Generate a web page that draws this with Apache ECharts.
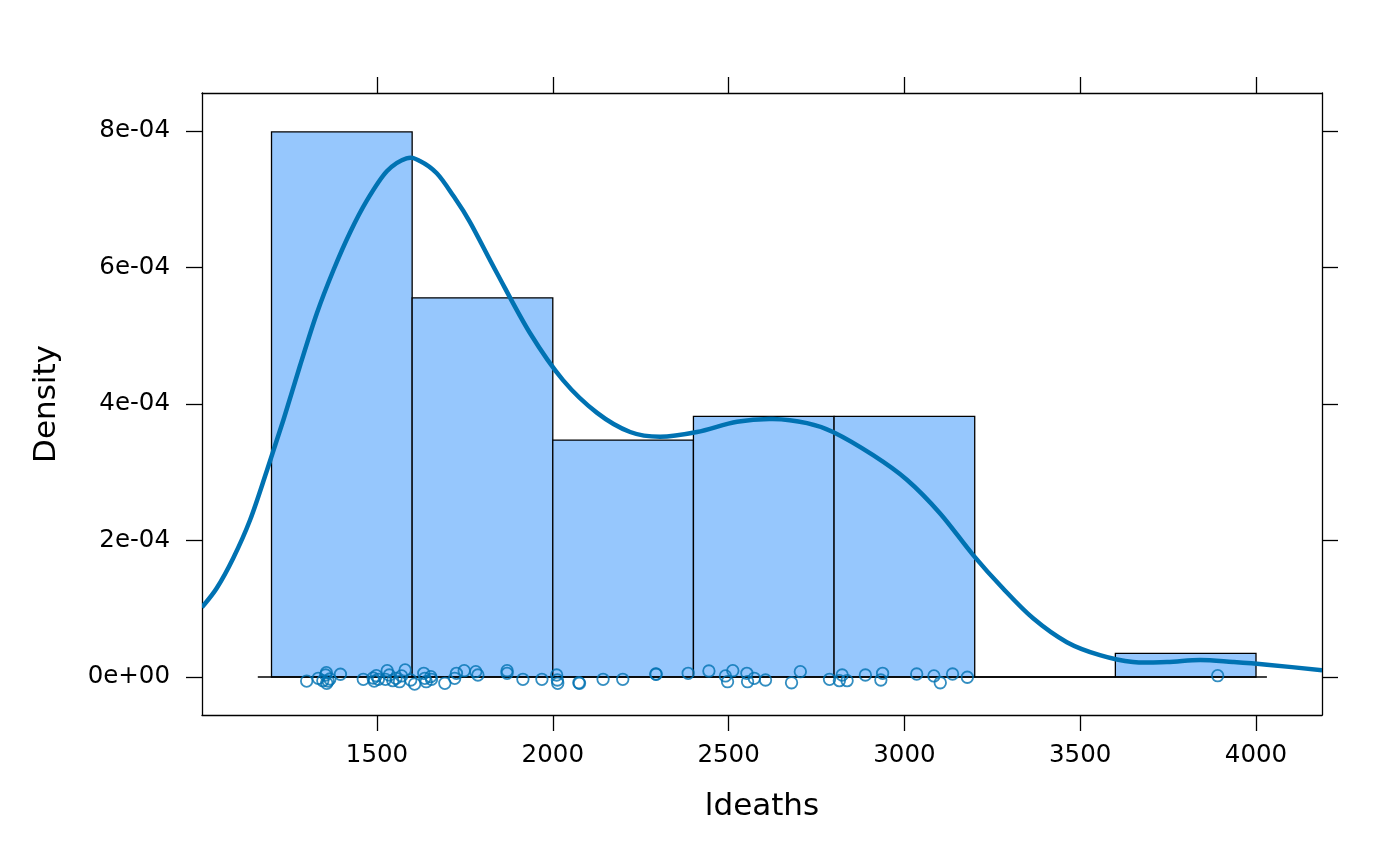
<!DOCTYPE html>
<html>
<head>
<meta charset="utf-8">
<script src="https://cdn.jsdelivr.net/npm/echarts@6/dist/echarts.min.js"></script>
<style>
html,body{margin:0;padding:0;background:#fff;}
#chart{width:1400px;height:866px;}
</style>
</head>
<body>
<div id="chart"></div>
<script>
// Histogram bins
const binStarts = [1200, 1600, 2000, 2400, 2800, 3200, 3600];
const binEnds   = [1600, 2000, 2400, 2800, 3200, 3600, 4000];
const binDensity = [7.986e-4, 5.556e-4, 3.472e-4, 3.819e-4, 3.819e-4, 0, 0.347e-4];

const obsValues = [1300,1333,1346,1354,1356,1357,1361,1366,1396,1461,
  1489,1492,1498,1504,1524,1529,1535,1545,1554,1564,
  1570,1580,1596,1607,1633,1636,1640,1653,1655,1693,
  1721,1726,1748,1781,1787,1870,1870,1915,1969,2011,
  2013,2014,2074,2076,2143,2199,2293,2294,2385,2444,
  2491,2497,2512,2552,2554,2573,2605,2679,2704,2787,
  2815,2823,2837,2889,2933,2938,3035,3084,3102,3137,
  3179,3891];
const obsJitter = [-0.59e-5,-0.19e-5,-0.54e-5,0.29e-5,0.63e-5,-0.92e-5,-0.59e-5,-0.29e-5,0.40e-5,-0.34e-5,
  -0.15e-5,-0.59e-5,0.19e-5,-0.34e-5,-0.34e-5,0.92e-5,0.29e-5,-0.54e-5,-0.19e-5,-0.69e-5,
  0.15e-5,1.03e-5,-0.44e-5,-1.03e-5,0.54e-5,-0.19e-5,-0.69e-5,0.05e-5,-0.34e-5,-0.92e-5,
  -0.19e-5,0.54e-5,0.92e-5,0.78e-5,0.29e-5,0.92e-5,0.54e-5,-0.34e-5,-0.34e-5,0.29e-5,
  -0.44e-5,-0.92e-5,-0.84e-5,-0.92e-5,-0.34e-5,-0.34e-5,0.44e-5,0.40e-5,0.54e-5,0.88e-5,
  0.15e-5,-0.69e-5,0.92e-5,0.54e-5,-0.69e-5,-0.19e-5,-0.44e-5,-0.84e-5,0.78e-5,-0.34e-5,
  -0.54e-5,0.29e-5,-0.54e-5,0.29e-5,-0.44e-5,0.54e-5,0.44e-5,0.15e-5,-0.84e-5,0.44e-5,
  -0.04e-5,0.19e-5];

// Kernel density curve
const curveX = [1002,1044,1091,1139,1186,1234,1281,1329,1376,1423,1471,1528,1584,1622,1670,1717,1764,1841,1935,2029,2126,2220,2305,2410,2524,2626,2723,2797,2911,3007,3101,3195,3280,3366,3462,3556,3650,3747,3841,3934,4031,4188];
const curveY = [1.02e-4,1.30e-4,1.74e-4,2.30e-4,3.01e-4,3.77e-4,4.56e-4,5.33e-4,5.96e-4,6.51e-4,6.98e-4,7.41e-4,7.60e-4,7.56e-4,7.38e-4,7.05e-4,6.67e-4,5.92e-4,5.04e-4,4.35e-4,3.87e-4,3.59e-4,3.52e-4,3.59e-4,3.74e-4,3.78e-4,3.72e-4,3.59e-4,3.25e-4,2.89e-4,2.40e-4,1.79e-4,1.30e-4,0.86e-4,0.51e-4,0.32e-4,0.22e-4,0.22e-4,0.25e-4,0.22e-4,0.18e-4,0.10e-4];

// Baseline segment
const baseX = [1161, 4031];

// Ticks
const xTicks = [1500, 2000, 2500, 3000, 3500, 4000];
const yTicks = [0, 2e-4, 4e-4, 6e-4, 8e-4];
const yTickLabels = ['0e+00', '2e-04', '4e-04', '6e-04', '8e-04'];

const xMin = 1002.3, xMax = 4187.7;
const yMin = -0.5568e-4, yMax = 8.5568e-4;

const FONT = 'DejaVu Sans';
const lineCol = '#0072B2';
const boxLine = {show: true, onZero: false, lineStyle: {color: '#000', width: 1.3}};
const tickStyle = {color: '#000', width: 1.3};

const chart = echarts.init(document.getElementById('chart'), null, {renderer: 'canvas'});

function yLabel(v) {
  const i = Math.round(v / 2e-4);
  return yTickLabels[i] !== undefined ? yTickLabels[i] : '';
}

// Smooth curve through the read points (Catmull-Rom in pixel space, via the axes' scales)
function renderCurve(params, api) {
  const pts = curveX.map((x, i) => api.coord([x, curveY[i]]));
  const n = pts.length;
  let d = 'M' + pts[0][0] + ' ' + pts[0][1];
  for (let i = 0; i < n - 1; i++) {
    const p0 = pts[Math.max(i - 1, 0)];
    const p1 = pts[i];
    const p2 = pts[i + 1];
    const p3 = pts[Math.min(i + 2, n - 1)];
    const c1x = p1[0] + (p2[0] - p0[0]) / 6, c1y = p1[1] + (p2[1] - p0[1]) / 6;
    const c2x = p2[0] - (p3[0] - p1[0]) / 6, c2y = p2[1] - (p3[1] - p1[1]) / 6;
    d += ' C' + c1x + ' ' + c1y + ' ' + c2x + ' ' + c2y + ' ' + p2[0] + ' ' + p2[1];
  }
  return {
    type: 'path',
    shape: {pathData: d},
    style: {fill: null, stroke: lineCol, lineWidth: 4.5, lineJoin: 'round', lineCap: 'butt'}
  };
}

const option = {
  backgroundColor: '#fff',
  animation: false,
  grid: {left: 202, top: 93, width: 1120, height: 622, containLabel: false},
  xAxis: [
    {
      type: 'value', position: 'bottom', min: xMin, max: xMax,
      axisLine: boxLine,
      axisTick: {show: true, inside: false, length: 16, lineStyle: tickStyle, customValues: xTicks},
      axisLabel: {show: true, customValues: xTicks, fontFamily: FONT, fontSize: 24.5, color: '#000', margin: 28,
        formatter: v => String(v)},
      splitLine: {show: false},
      name: 'ldeaths', nameLocation: 'middle', nameGap: 76,
      nameTextStyle: {fontFamily: FONT, fontSize: 31, color: '#000'}
    },
    {
      type: 'value', position: 'top', min: xMin, max: xMax,
      axisLine: boxLine,
      axisTick: {show: true, inside: false, length: 16, lineStyle: tickStyle, customValues: xTicks},
      axisLabel: {show: false},
      splitLine: {show: false}
    }
  ],
  yAxis: [
    {
      type: 'value', position: 'left', min: yMin, max: yMax,
      axisLine: boxLine,
      axisTick: {show: true, inside: false, length: 16, lineStyle: tickStyle, customValues: yTicks},
      axisLabel: {show: true, customValues: yTicks, fontFamily: FONT, fontSize: 24.5, color: '#000', margin: 32,
        formatter: yLabel},
      splitLine: {show: false},
      name: 'Density', nameLocation: 'middle', nameGap: 140,
      nameTextStyle: {fontFamily: FONT, fontSize: 31, color: '#000'}
    },
    {
      type: 'value', position: 'right', min: yMin, max: yMax,
      axisLine: boxLine,
      axisTick: {show: true, inside: false, length: 16, lineStyle: tickStyle, customValues: yTicks},
      axisLabel: {show: false},
      splitLine: {show: false}
    }
  ],
  series: [
    {
      type: 'custom', xAxisIndex: 0, yAxisIndex: 0, z: 2,
      data: binStarts.map((s, i) => [s, binEnds[i], binDensity[i]]),
      encode: {x: [0, 1], y: 2},
      renderItem: function (params, api) {
        const p0 = api.coord([api.value(0), api.value(2)]);
        const p1 = api.coord([api.value(1), 0]);
        return {
          type: 'rect',
          shape: {x: p0[0], y: p0[1], width: p1[0] - p0[0], height: p1[1] - p0[1]},
          style: {fill: '#96C7FD', stroke: '#000', lineWidth: 1.3}
        };
      }
    },
    {
      type: 'line', xAxisIndex: 0, yAxisIndex: 0, z: 3,
      data: baseX.map(x => [x, 0]),
      symbol: 'none', lineStyle: {color: '#000', width: 1.3}, silent: true
    },
    {
      type: 'scatter', xAxisIndex: 0, yAxisIndex: 0, z: 4,
      data: obsValues.map((v, i) => [v, obsJitter[i]]),
      symbol: 'circle', symbolSize: 11.5,
      itemStyle: {color: 'rgba(0,0,0,0)', borderColor: lineCol, borderWidth: 1.8}
    },
    {
      type: 'custom', xAxisIndex: 0, yAxisIndex: 0, z: 5,
      data: [[curveX[0], curveY[0]]],
      encode: {x: 0, y: 1},
      clip: true,
      renderItem: renderCurve
    }
  ]
};
chart.setOption(option);
</script>
</body>
</html>
